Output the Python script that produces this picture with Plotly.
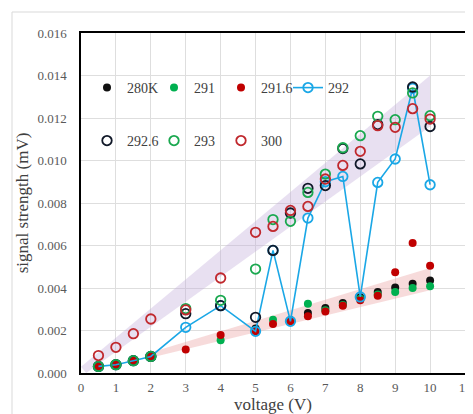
import plotly.graph_objects as go

# ---- data ----
x_280 = [0.5, 1, 1.5, 2, 5, 6, 6.5, 7, 7.5, 8, 8.5, 9, 9.5, 10]
y_280 = [0.00031, 0.00039, 0.00058, 0.00078, 0.0021, 0.0025, 0.00282, 0.00306, 0.00329, 0.00356, 0.00381, 0.00402, 0.0042, 0.00435]

x_291 = [0.5, 1, 1.5, 2, 4, 5, 5.5, 6, 6.5, 7, 7.5, 8, 8.5, 9, 9.5, 10]
y_291 = [0.00031, 0.00039, 0.00058, 0.00078, 0.00154, 0.00198, 0.00251, 0.00245, 0.00326, 0.00295, 0.0032, 0.0035, 0.0037, 0.00381, 0.004, 0.00408]

x_2916 = [0.5, 1, 1.5, 2, 3, 4, 5, 5.5, 6, 6.5, 7, 7.5, 8, 8.5, 9, 9.5, 10]
y_2916 = [0.00031, 0.00039, 0.00058, 0.00078, 0.00111, 0.00179, 0.00196, 0.00231, 0.00243, 0.00267, 0.0029, 0.00317, 0.00342, 0.00364, 0.00474, 0.00612, 0.00505]

x_292 = [0.5, 1, 1.5, 2, 3, 4, 5, 5.5, 6, 6.5, 7, 7.5, 8, 8.5, 9, 9.5, 10]
y_292 = [0.00031, 0.00039, 0.00058, 0.00078, 0.00215, 0.00317, 0.00196, 0.00577, 0.00243, 0.00729, 0.009, 0.00925, 0.00358, 0.00897, 0.01007, 0.0134, 0.00886]

x_2926 = [0.5, 1, 1.5, 2, 3, 4, 5, 5.5, 6, 6.5, 7, 7.5, 8, 8.5, 9.5, 10]
y_2926 = [0.00031, 0.00039, 0.00058, 0.00078, 0.00279, 0.00317, 0.00262, 0.00577, 0.00753, 0.00869, 0.00882, 0.01056, 0.00984, 0.01169, 0.01346, 0.0116]

x_293 = [0.5, 1, 1.5, 2, 3, 4, 5, 5.5, 6, 6.5, 7, 7.5, 8, 8.5, 9, 9.5, 10]
y_293 = [0.00031, 0.00039, 0.00058, 0.00078, 0.00303, 0.00342, 0.00489, 0.00722, 0.00714, 0.0085, 0.00936, 0.0106, 0.01117, 0.01208, 0.01192, 0.01318, 0.01211]

x_300 = [0.5, 1, 1.5, 2, 3, 4, 5, 5.5, 6, 6.5, 7, 7.5, 8, 8.5, 9, 9.5, 10]
y_300 = [0.00082, 0.00121, 0.00185, 0.00254, 0.00297, 0.00447, 0.00662, 0.0069, 0.00765, 0.00784, 0.00913, 0.00977, 0.01043, 0.01164, 0.01156, 0.01244, 0.01195]

# shaded trend bands (polygon outlines)
band_hi_x = [0.15, 10, 10, 0.0, 0.15]
band_hi_y = [0.0, 0.0116, 0.0140, 0.0003, 0.0]
band_lo_x = [1.9, 10, 10, 1.9, 1.9]
band_lo_y = [0.00068, 0.0039, 0.00494, 0.00092, 0.00068]

x_ticks = list(range(0, 12))
y_ticks = [0.000, 0.002, 0.004, 0.006, 0.008, 0.010, 0.012, 0.014, 0.016]

FONT = "Liberation Serif"
BLACK = "#111111"
GREEN = "#00b050"
RED = "#c00000"
BLUE = "#1aa7e6"
OPEN_BLACK = "#101828"
OPEN_GREEN = "#1aa84f"
OPEN_RED = "#c0282d"

fig = go.Figure()

fig.add_trace(go.Scatter(x=band_hi_x, y=band_hi_y, fill="toself", mode="lines",
                         line=dict(width=0), fillcolor="rgba(190,170,215,0.36)",
                         hoverinfo="skip", showlegend=False))
fig.add_trace(go.Scatter(x=band_lo_x, y=band_lo_y, fill="toself", mode="lines",
                         line=dict(width=0), fillcolor="rgba(235,160,160,0.38)",
                         hoverinfo="skip", showlegend=False))

filled_size = 8
open_size = 9.5

fig.add_trace(go.Scatter(x=x_280, y=y_280, mode="markers", name="280K",
                         marker=dict(color=BLACK, size=filled_size), legend="legend"))
fig.add_trace(go.Scatter(x=x_291, y=y_291, mode="markers", name="291",
                         marker=dict(color=GREEN, size=filled_size), legend="legend"))
fig.add_trace(go.Scatter(x=x_2916, y=y_2916, mode="markers", name="291.6",
                         marker=dict(color=RED, size=filled_size), legend="legend"))
fig.add_trace(go.Scatter(x=x_292, y=y_292, mode="lines+markers", name="292",
                         line=dict(color=BLUE, width=1.6),
                         marker=dict(symbol="circle-open", color=BLUE, size=open_size, line=dict(width=1.8)),
                         legend="legend"))
fig.add_trace(go.Scatter(x=x_2926, y=y_2926, mode="markers", name="292.6",
                         marker=dict(symbol="circle-open", color=OPEN_BLACK, size=open_size, line=dict(width=1.8)),
                         legend="legend2"))
fig.add_trace(go.Scatter(x=x_293, y=y_293, mode="markers", name="293",
                         marker=dict(symbol="circle-open", color=OPEN_GREEN, size=open_size, line=dict(width=1.8)),
                         legend="legend2"))
fig.add_trace(go.Scatter(x=x_300, y=y_300, mode="markers", name="300",
                         marker=dict(symbol="circle-open", color=OPEN_RED, size=open_size, line=dict(width=1.8)),
                         legend="legend2"))

# page is shown with an 8px body margin; compensate
OFF = 8
W, H = 473 - OFF, 414 - OFF
L, R, T, B = 81 - OFF, 8, 33 - OFF, 41
pw = W - L - R
ph = H - T - B

def px2paper_x(px):
    # px in page coordinates
    return (px - OFF - L) / pw

def px2paper_y(py):
    return (H - B - (py - OFF)) / ph

legend_common = dict(orientation="h", xanchor="left", yanchor="middle",
                     bgcolor="rgba(0,0,0,0)", font=dict(family=FONT, size=14, color="#404040"),
                     entrywidth=22, entrywidthmode="pixels", itemwidth=30,
                     traceorder="normal")

fig.update_layout(
    width=W, height=H,
    margin=dict(l=L, r=R, t=T, b=B, autoexpand=False),
    paper_bgcolor="white", plot_bgcolor="white",
    font=dict(family=FONT, color="#595959"),
    legend=dict(x=px2paper_x(87), y=px2paper_y(88), **legend_common),
    legend2=dict(x=px2paper_x(87), y=px2paper_y(141), **legend_common),
    xaxis=dict(range=[0, 11], tickvals=x_ticks, ticktext=[str(v) for v in x_ticks],
               showgrid=True, gridcolor="#dedede", gridwidth=1,
               showline=True, linecolor="black", linewidth=1.5, mirror=True,
               ticks="", zeroline=False, ticklabelstandoff=2, ticklabeloverflow="allow",
               tickfont=dict(family=FONT, size=13, color="#595959"),
               title=dict(text="voltage (V)", font=dict(family=FONT, size=17, color="#404040"),
                          standoff=5)),
    yaxis=dict(range=[0, 0.016], tickvals=y_ticks, tickformat=".3f",
               showgrid=True, gridcolor="#dedede", gridwidth=1,
               showline=True, linecolor="black", linewidth=1.5, mirror=True,
               ticks="", zeroline=False, ticklabelstandoff=10, ticklabeloverflow="allow",
               tickfont=dict(family=FONT, size=13, color="#595959"),
               title=dict(text="signal strength (mV)", font=dict(family=FONT, size=17, color="#404040"),
                          standoff=4)),
    shapes=[dict(type="rect", xref="paper", yref="paper", layer="below",
                 x0=px2paper_x(12), x1=px2paper_x(490), y0=px2paper_y(430), y1=px2paper_y(12),
                 line=dict(color="#d9d9d9", width=1), fillcolor="rgba(0,0,0,0)")],
)

fig.write_html("out.html")
